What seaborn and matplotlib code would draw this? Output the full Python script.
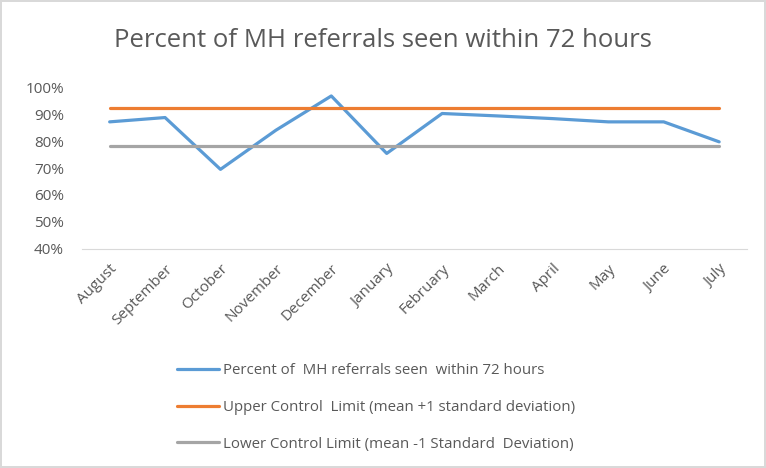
import pandas as pd
import seaborn as sb
import matplotlib.pyplot as plt
from matplotlib.ticker import PercentFormatter

months = ['August', 'September', 'October', 'November', 'December', 'January',
          'February', 'March', 'April', 'May', 'June', 'July']
seen_72h = [0.871, 0.887, 0.695, 0.840, 0.967, 0.754,
            0.902, 0.893, 0.883, 0.871, 0.871, 0.797]
ucl = 0.922
lcl = 0.781

series_names = ['Percent of  MH referrals seen  within 72 hours',
                'Upper Control  Limit (mean +1 standard deviation)',
                'Lower Control Limit (mean -1 Standard  Deviation)']
colors = ['#5B9BD5', '#ED7D31', '#A5A5A5']

# long-form table for seaborn
df = pd.DataFrame({
    'month': months * 3,
    'value': seen_72h + [ucl] * len(months) + [lcl] * len(months),
    'series': [series_names[0]] * 12 + [series_names[1]] * 12 + [series_names[2]] * 12,
})

sb.set_style('white')
plt.rcParams['font.family'] = ['Open Sans', 'DejaVu Sans']

fig = plt.figure(figsize=(7.66, 4.68), dpi=100)
fig.patch.set_edgecolor('#D9D9D9')
fig.patch.set_linewidth(1.5)
ax = fig.add_axes([0.107, 0.468, 0.868, 0.346])

sb.lineplot(data=df, x='month', y='value', hue='series', palette=colors,
            linewidth=2.3, sort=False, ax=ax, legend=False)

ax.set_xlim(-0.5, 11.5)
ax.set_ylim(0.4, 1.0)
ax.set_yticks([0.4, 0.5, 0.6, 0.7, 0.8, 0.9, 1.0])
ax.yaxis.set_major_formatter(PercentFormatter(1.0, decimals=0))
ax.set_xlabel('')
ax.set_ylabel('')

for s in ['top', 'right', 'left']:
    ax.spines[s].set_visible(False)
ax.spines['bottom'].set_color('#D9D9D9')
ax.spines['bottom'].set_linestyle((0, (1, 1)))
ax.tick_params(axis='both', length=0, colors='#595959', labelsize=11)
ax.tick_params(axis='y', pad=13)
ax.tick_params(axis='x', pad=9)
plt.setp(ax.get_xticklabels(), rotation=45, ha='right', rotation_mode='anchor')

fig.suptitle('Percent of MH referrals seen within 72 hours', fontsize=18.5,
             color='#595959', y=0.94)

handles = [plt.Line2D([], [], color=c, linewidth=2.3) for c in colors]
fig.legend(handles, series_names, loc='upper left', bbox_to_anchor=(0.214, 0.253),
           frameon=False, fontsize=10.8, labelcolor='#595959', handlelength=2.8,
           handletextpad=0.25, labelspacing=1.45)

plt.savefig('out.png', dpi=100)
